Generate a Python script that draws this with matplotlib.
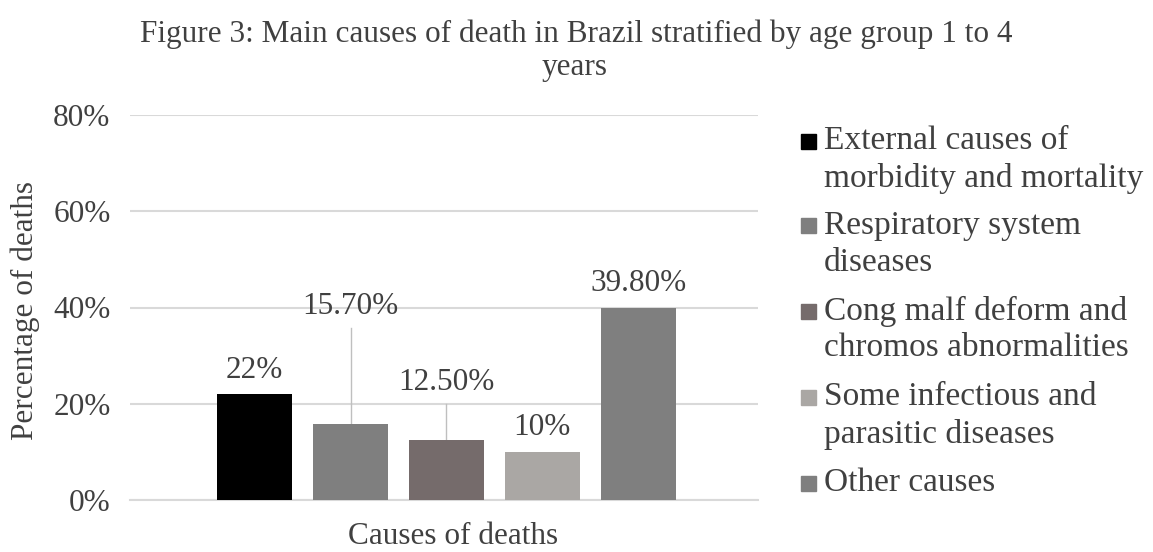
import matplotlib
matplotlib.use("Agg")
import matplotlib.pyplot as plt
from matplotlib.patches import Rectangle
from matplotlib.ticker import PercentFormatter

# Data
causes = [
    "External causes of\nmorbidity and mortality",
    "Respiratory system\ndiseases",
    "Cong malf deform and\nchromos abnormalities",
    "Some infectious and\nparasitic diseases",
    "Other causes",
]
shares = [0.22, 0.157, 0.125, 0.10, 0.398]
value_labels = ["22%", "15.70%", "12.50%", "10%", "39.80%"]
colors = ["#000000", "#7f7f7f", "#756b6b", "#aaa7a4", "#7f7f7f"]
# lifted labels (with leader lines) for the two middle bars
label_lift = [0.05, 0.245, 0.12, 0.05, 0.052]

yticks = [0.0, 0.2, 0.4, 0.6, 0.8]

plt.rcParams["font.family"] = ["Liberation Serif", "DejaVu Serif"]
TXT = "#404040"
FS = 22.5
FS_LEG = 24

W, H = 1153, 552
fig = plt.figure(figsize=(W / 100, H / 100), dpi=100)
fig.patch.set_facecolor("white")


def fx(px):
    return px / W


def fy(py):
    return 1 - py / H


ax = fig.add_axes([fx(130), fy(500), fx(758) - fx(130), fy(115) - fy(500)])

x = list(range(len(shares)))
ax.bar(x, shares, width=0.78, color=colors, zorder=3)

ax.set_xlim(-1.30, 5.25)
ax.set_ylim(0, 0.8)
ax.set_yticks(yticks)
ax.yaxis.set_major_formatter(PercentFormatter(1.0, decimals=0))
ax.set_xticks([])
ax.tick_params(axis="y", length=0, labelsize=FS, labelcolor=TXT, pad=14)
ax.grid(axis="y", color="#d9d9d9", linewidth=1.5, zorder=0)
for side in ["top", "right", "left"]:
    ax.spines[side].set_visible(False)
ax.spines["bottom"].set_color("#d9d9d9")
ax.spines["bottom"].set_linewidth(1.5)

# value labels
for xi, v, lab, lift in zip(x, shares, value_labels, label_lift):
    ly = v + lift
    ax.text(xi, ly, lab, ha="center", va="center", fontsize=FS, color=TXT, zorder=4)
    if lift > 0.06:
        ax.plot([xi, xi], [v, ly - 0.045], color="#bfbfbf", linewidth=1.0, zorder=2)

# axis titles
fig.text(fx(25), fy(310), "Percentage of deaths", rotation=90, ha="center", va="center",
         fontsize=FS, color=TXT)
fig.text(fx(453), fy(536), "Causes of deaths", ha="center", va="center",
         fontsize=FS, color=TXT)

# title
fig.text(0.5, fy(34), "Figure 3: Main causes of death in Brazil stratified by age group 1 to 4",
         ha="center", va="center", fontsize=FS, color=TXT)
fig.text(fx(575), fy(68), "years", ha="center", va="center", fontsize=FS, color=TXT)

# legend
row_y = [141, 226, 311, 397, 483]
for label, col, ry in zip(causes, colors, row_y):
    fig.patches.append(Rectangle((fx(801), fy(ry + 7.5)), 15 / W, 15 / H,
                                 transform=fig.transFigure, color=col, figure=fig))
    for k, line in enumerate(label.split("\n")):
        fig.text(fx(824), fy(ry + 37 * k), line, ha="left", va="center",
                 fontsize=FS_LEG, color=TXT)

fig.savefig("out.png", dpi=100, facecolor="white")
